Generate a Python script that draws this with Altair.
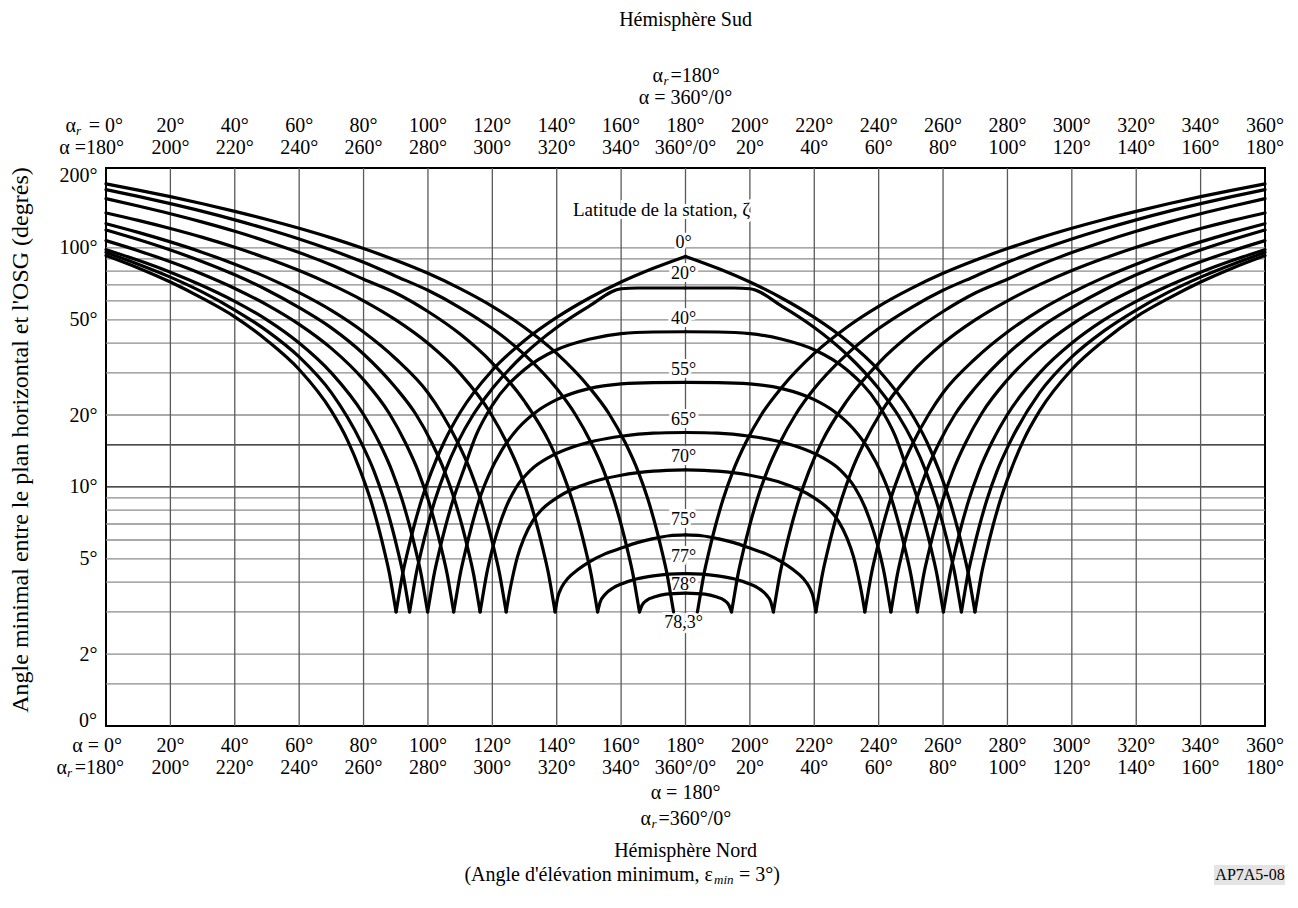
import altair as alt
import pandas as pd

FONT = "Liberation Serif"
W, H = 1159, 558

# ---------------- axis / grid data ----------------
X_TICKS = [20, 40, 60, 80, 100, 120, 140, 160, 180, 200, 220, 240, 260, 280, 300, 320, 340, 360]
ROW_ALPHA = ["20°", "40°", "60°", "80°", "100°", "120°", "140°", "160°", "180°",
             "200°", "220°", "240°", "260°", "280°", "300°", "320°", "340°", "360°"]
ROW_SHIFTED = ["200°", "220°", "240°", "260°", "280°", "300°", "320°", "340°", "360°/0°",
               "20°", "40°", "60°", "80°", "100°", "120°", "140°", "160°", "180°"]
V_GRID = [20, 40, 60, 80, 100, 120, 140, 160, 180, 200, 220, 240, 260, 280, 300, 320, 340]
H_GRID = [1.5, 2, 3, 4, 5, 6, 7, 8, 9, 10, 15, 20, 30, 40, 50, 60, 70, 80, 90, 100]
H_GRID_DARK = [10, 15]
Y_TICKS = [2, 5, 10, 20, 50, 100, 200]

# ---------------- curves (left half, azimuth alpha in degrees) ----------------
LAT_NAMES = ["0°", "20°", "40°", "55°", "65°", "70°", "75°", "77°", "78°", "78,3°"]

L0_A = [0, 10, 20, 30, 40, 50, 60, 70, 75.1, 79.1, 82.1, 84.6, 86.6, 88.1, 89.1, 90.1]
L0_V = [93, 82.5, 72, 61.5, 51.5, 41, 31, 20.8, 15.6, 11.6, 8.9, 6.8, 5.3, 4.3, 3.6, 3]
L20_A = [0, 10, 20, 30, 40, 50, 60, 70, 79.3, 83.3, 86.3, 88.8, 90.8, 92.3, 93.3, 94.3]
L20_V = [95.8, 85.5, 75.5, 65.3, 55, 45, 35, 24.8, 15.3, 11.6, 8.9, 6.8, 5.3, 4.3, 3.6, 3]
L40_A = [0, 10, 20, 30, 40, 50, 60, 70, 80, 84.9, 88.9, 91.9, 94.4, 96.4, 97.9, 98.9, 99.9]
L40_V = [98.4, 88.8, 79.2, 69.5, 59.8, 50, 40, 30, 20.1, 15.3, 11.6, 8.9, 6.8, 5.3, 4.3, 3.6, 3]
L55_A = [0, 10, 20, 30, 40, 50, 60, 70, 80, 88, 93, 97, 100, 102.5, 104.5, 106, 107, 108]
L55_V = [107.3, 97.4, 87.5, 77.6, 67.7, 57.8, 47.9, 38, 28.1, 20.3, 15.3, 11.6, 8.9, 6.8, 5.3, 4.3, 3.6, 3]
L65_A = [0, 10, 20, 30, 40, 50, 60, 70, 80, 90, 96.2, 101.2, 105.2, 108.2, 110.7, 112.7, 114.2, 115.2, 116.2]
L65_V = [118.9, 108.4, 98, 87.6, 77.2, 66.7, 56.3, 46.3, 36, 26, 20.2, 15.3, 11.6, 8.9, 6.8, 5.3, 4.3,
         3.6, 3]
L70_A = [0, 10, 20, 30, 40, 50, 60, 70, 80, 90, 100, 104.3, 109.3, 113.3, 116.3, 118.8, 120.8, 122.3, 123.3,
         124.3]
L70_V = [126.4, 116.2, 106, 95.8, 85.5, 75.3, 65, 54.8, 44.5, 34.4, 24.8, 20.3, 15.3, 11.6, 8.9, 6.8, 5.3, 4.3,
         3.6, 3]
L75_A = [0, 10, 20, 30, 40, 50, 60, 70, 80, 90, 100, 110, 119.5, 124.5, 128.5, 131.5, 134, 136, 137.5, 138.5,
         139.5]
L75_V = [140.1, 130.4, 120.6, 110.7, 100.6, 90.5, 80.4, 70.2, 60.1, 50, 39.9, 29.8, 20.3, 15.3, 11.6, 8.9, 6.8,
         5.3, 4.3, 3.6, 3]
L77_A = [0, 10, 20, 30, 40, 50, 60, 70, 80, 90, 100, 110, 120, 130, 137.7, 141.7, 144.7, 147.2, 149.2, 150.7,
         151.7, 152.7]
L77_V = [160.8, 149.8, 139, 128.2, 117.4, 106.5, 95.6, 84.8, 74, 64.8, 54.2, 43.6, 33, 22.8, 15.4, 11.6, 8.9,
         6.8, 5.3, 4.3, 3.6, 3]
L78_A = [0, 10, 20, 30, 40, 50, 60, 70, 80, 90, 100, 110, 120, 130, 140, 145.7, 150.7, 154.7, 157.7, 160.2,
         162.2, 163.7, 164.7, 165.7]
L78_V = [175.4, 164.3, 153.2, 142.2, 131.1, 120, 109, 98, 87.1, 76.2, 66.5, 56.2, 46, 35.8, 25.8, 20.2, 15.3,
         11.6, 8.9, 6.8, 5.3, 4.3, 3.6, 3]
L783_A = [0, 10, 20, 30, 40, 50, 60, 70, 80, 90, 100, 110, 120, 130, 140, 150, 156.3, 161.3, 165.3, 168.3,
          170.8, 172.8, 174.3, 175.3, 176.3]
L783_V = [185.3, 174.6, 163.9, 153.1, 142.3, 131.6, 120.9, 110.2, 99.4, 88.8, 78.3, 67.6, 57, 46.5, 36.2, 26.2,
          20.2, 15.3, 11.6, 8.9, 6.8, 5.3, 4.3, 3.6, 3]

D0_A = [90.1, 91.1, 92.1, 93.6, 95.6, 98.1, 101.1, 105.1, 110, 120, 130, 140, 150, 160, 170, 180]
D0_V = [3, 3.6, 4.3, 5.3, 6.8, 8.9, 11.6, 15.5, 20.5, 30.8, 41, 51.2, 61.6, 72, 82.2, 92.2]
D20_A = [94.3, 95.3, 96.3, 97.8, 99.8, 102.3, 105.3, 109.3, 114, 120, 130, 140, 150, 160, 165, 170, 180]
D20_V = [3, 3.6, 4.3, 5.3, 6.8, 8.9, 11.6, 15.4, 20, 25.8, 36, 46.5, 57, 67.5, 68, 68, 68]
D40_A = [99.9, 100.9, 101.9, 103.4, 105.4, 107.9, 110.9, 115, 120, 130, 140, 150, 160, 170, 180]
D40_V = [3, 3.6, 4.3, 5.3, 6.8, 8.9, 11.6, 16.5, 22, 31, 37.5, 41.5, 43.8, 44.5, 44.6]
D55_A = [108, 109, 110, 111.5, 113.5, 116, 119, 123, 128, 134, 140, 150, 160, 170, 180]
D55_V = [3, 3.6, 4.3, 5.3, 6.8, 8.9, 11.3, 14.3, 17.6, 20.8, 23.2, 25.8, 27, 27.35, 27.4]
D65_A = [116.2, 117.2, 118.2, 119.7, 121.7, 124.2, 127.5, 132, 138, 145, 152, 160, 170, 180]
D65_V = [3, 3.6, 4.3, 5.3, 6.6, 8.2, 10, 11.8, 13.4, 14.7, 15.6, 16.3, 16.8, 16.9]
D70_A = [124.3, 125.3, 126.3, 127.8, 129.8, 132.5, 136, 140, 145, 150, 160, 170, 180]
D70_V = [3, 3.6, 4.2, 5.1, 6.1, 7.2, 8.2, 9.0, 9.8, 10.4, 11.2, 11.65, 11.8]
D75_A = [139.5, 140.3, 141.5, 143.5, 146.5, 150, 155, 160, 165, 170, 175, 180]
D75_V = [3, 3.45, 3.8, 4.15, 4.5, 4.85, 5.25, 5.55, 5.85, 6.08, 6.25, 6.3]
D77_A = [152.7, 153.5, 155, 157.5, 160.5, 165, 170, 175, 180]
D77_V = [3, 3.3, 3.55, 3.78, 3.95, 4.13, 4.25, 4.32, 4.34]
D78_A = [165.7, 166.5, 168, 170.5, 174, 180]
D78_V = [3, 3.2, 3.36, 3.47, 3.56, 3.6]

LEFT = [(L0_A, L0_V), (L20_A, L20_V), (L40_A, L40_V), (L55_A, L55_V), (L65_A, L65_V),
        (L70_A, L70_V), (L75_A, L75_V), (L77_A, L77_V), (L78_A, L78_V), (L783_A, L783_V)]
DOMES = [(D0_A, D0_V), (D20_A, D20_V), (D40_A, D40_V), (D55_A, D55_V), (D65_A, D65_V),
         (D70_A, D70_V), (D75_A, D75_V), (D77_A, D77_V), (D78_A, D78_V)]

# ---------------- build tables (figure is symmetric about alpha = 180 deg) ----------------
rows = []


def add(serie, a_list, v_list):
    for i, (a, v) in enumerate(zip(a_list, v_list)):
        rows.append({"serie": serie, "alpha": a, "angle": v, "ordre": i})


def mirror(a_list, v_list):
    return [360 - a for a in reversed(a_list)], list(reversed(v_list))


for name, (a_list, v_list) in zip(LAT_NAMES, LEFT):
    add(name + " gauche", a_list, v_list)
    add(name + " droite", *mirror(a_list, v_list))
for name, (a_list, v_list) in zip(LAT_NAMES, DOMES):
    add(name + " arc g", a_list, v_list)
    add(name + " arc d", *mirror(a_list, v_list))
curves = pd.DataFrame(rows)

xs = alt.Scale(domain=[0, 360], nice=False, zero=False)
ys = alt.Scale(type="log", domain=[1, 216], nice=False)
Y_AXIS = alt.Axis(values=Y_TICKS, labelExpr="datum.value + '°'",
                  labelFont=FONT, labelFontSize=20, labelColor="black", ticks=False,
                  domain=False, grid=False, title=None, labelPadding=9)


def Y(field="angle"):
    return alt.Y(field + ":Q", scale=ys, axis=Y_AXIS)


def X(field="alpha"):
    return alt.X(field + ":Q", scale=xs, axis=None)


hgrid = pd.DataFrame({"angle": H_GRID,
                      "kind": ["dark" if g in H_GRID_DARK else "light" for g in H_GRID]})
vgrid = pd.DataFrame({"alpha": V_GRID})

h_layer = alt.Chart(hgrid).mark_rule(strokeWidth=1.3).encode(
    y=Y(),
    color=alt.Color("kind:N", scale=alt.Scale(domain=["dark", "light"], range=["#111111", "#8c8c8c"]),
                    legend=None),
)
v_layer = alt.Chart(vgrid).mark_rule(strokeWidth=1.3, color="#5a5a5a").encode(x=X())

line_layer = alt.Chart(curves).mark_line(color="black", strokeWidth=3.2, strokeCap="round",
                                         strokeJoin="round", interpolate="monotone").encode(
    x=X(), y=Y(), detail="serie:N", order="ordre:Q",
)


def tick_row(labels, ypix, size=20):
    df = pd.DataFrame({"alpha": X_TICKS, "label": labels})
    return alt.Chart(df).mark_text(font=FONT, fontSize=size, baseline="middle", align="center",
                                   color="black").encode(x=X(), y=alt.value(ypix), text="label:N")


def txt(s, x, y, size=20, align="center", style="normal", angle=0):
    df = pd.DataFrame({"t": [s]})
    return alt.Chart(df).mark_text(font=FONT, fontSize=size, baseline="middle", align=align,
                                   fontStyle=style, angle=angle, color="black").encode(
        x=alt.value(x), y=alt.value(y), text="t:N")


CX = W / 2  # alpha = 180 deg
YB1, YB2, YB3, YB4, YB5, YB6 = 578, 600, 625, 651, 683, 707

texts = [
    tick_row(ROW_ALPHA, -42), tick_row(ROW_SHIFTED, -20),
    tick_row(ROW_ALPHA, YB1), tick_row(ROW_SHIFTED, YB2),
    # bottom label of the y axis
    txt("0°", -9, H - 5, align="right"),
    # first labels (alpha = 0)
    txt("= 0°", 17, -42, align="right"), txt("r", -25, -37, size=13, align="right", style="italic"),
    txt("α", -30, -42, align="right"),
    txt("α =180°", 18, -20, align="right"),
    txt("α = 0°", 16, YB1, align="right"),
    txt("=180°", 18, YB2, align="right"), txt("r", -34, YB2 + 5, size=13, align="right", style="italic"),
    txt("α", -39, YB2, align="right"),
    # centre captions
    txt("Hémisphère Sud", CX, -148),
    txt("α", CX - 33, -92, align="left"), txt("r", CX - 22, -87, size=13, align="left", style="italic"),
    txt("=180°", CX - 15, -92, align="left"),
    txt("α = 360°/0°", CX, -70),
    txt("α = 180°", CX, YB3),
    txt("α", CX - 45, YB4, align="left"), txt("r", CX - 34, YB4 + 5, size=13, align="left", style="italic"),
    txt("=360°/0°", CX - 27, YB4, align="left"),
    txt("Hémisphère Nord", CX, YB5),
    txt("(Angle d'élévation minimum, ε", 607, YB6, align="right"),
    txt("min", 608, YB6 + 5, size=13, align="left", style="italic"),
    txt("= 3°)", 633, YB6, align="left"),
    txt("Angle minimal entre le plan horizontal et l'OSG (degrés)", -85, 272, size=24, angle=270),
]

code_box = alt.Chart(pd.DataFrame({"t": ["AP7A5-08"]})).mark_rect(color="#e4e4e4").encode(
    x=alt.value(1108), x2=alt.value(1180), y=alt.value(YB6 - 10), y2=alt.value(YB6 + 10))
code_txt = txt("AP7A5-08", 1144, YB6, size=16)

# latitude labels above each arc top
PEAKS = [92.2, 68, 44.6, 27.4, 16.9, 11.8, 6.3, 4.34, 3.6, 3]
LAB_DY = [-13, -14, -13, -12, -13, -13, -15, -17, -8, 11]
lab_layers_halo = []
lab_layers = []
for name, pk, dy in zip(LAT_NAMES, PEAKS, LAB_DY):
    df = pd.DataFrame({"alpha": [180], "angle": [pk], "t": [name]})
    enc = dict(x=X(), y=Y(), text="t:N")
    lab_layers_halo.append(alt.Chart(df).mark_text(font=FONT, fontSize=18, dy=dy, dx=-2, stroke="white",
                                                   strokeWidth=6, color="white").encode(**enc))
    lab_layers.append(alt.Chart(df).mark_text(font=FONT, fontSize=18, dy=dy, dx=-2,
                                              color="black").encode(**enc))
title_df = pd.DataFrame({"t": ["Latitude de la station, ζ"]})
title_halo = alt.Chart(title_df).mark_text(font=FONT, fontSize=19, align="left", stroke="white",
                                           strokeWidth=6, color="white").encode(
    x=alt.value(467), y=alt.value(42), text="t:N")
title_lab = txt("Latitude de la station, ζ", 467, 42, size=19, align="left")

chart = alt.layer(
    h_layer, v_layer, title_halo, *lab_layers_halo, line_layer,
    title_lab, *lab_layers, *texts, code_box, code_txt,
).properties(
    width=W, height=H,
    padding={"left": 98, "top": 160, "right": 20, "bottom": 180},
    autosize=alt.AutoSizeParams(type="none"),
).configure_view(stroke="black", strokeWidth=2)

chart.save("out.html", embed_options={"renderer": "svg", "actions": False})
